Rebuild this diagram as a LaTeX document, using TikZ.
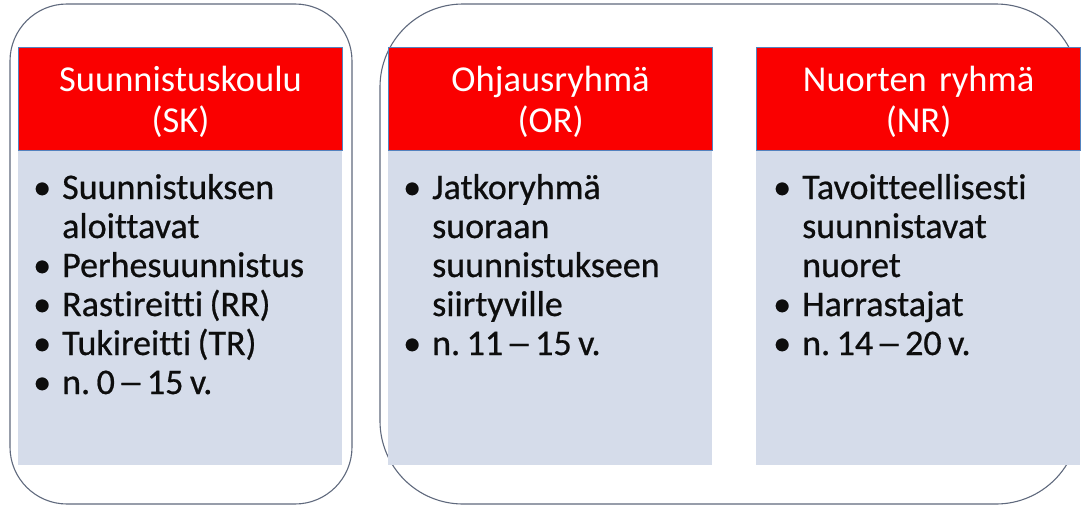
\documentclass[tikz,border=0pt]{standalone}
\usepackage{fontspec}
\setmainfont{Carlito}[Ligatures={NoCommon}]
\newfontfamily\listfont{Carlito}[Ligatures={NoCommon}, FakeBold=0.6]
\usetikzlibrary{calc}

\definecolor{hdrred}{RGB}{250,0,0}
\definecolor{hdredge}{RGB}{84,130,190}
\definecolor{bodyfill}{RGB}{213,220,234}
\definecolor{frameline}{RGB}{95,105,125}

% narrower word spaces for the list text
\newcommand{\tightspace}{\spaceskip=6.5pt plus 2pt minus 1pt\relax}

\tikzset{
  grpframe/.style={draw=frameline, line width=1.1pt},
  headbox/.style={fill=hdrred, draw=hdredge, line width=1.2pt,
    minimum width=324pt, minimum height=103pt, anchor=north west, inner sep=0pt},
  bodybox/.style={fill=bodyfill, minimum width=324pt, minimum height=315pt,
    anchor=north west, inner sep=0pt},
  headtext/.style={text=white, font=\fontsize{36.5}{41}\selectfont\frenchspacing,
    align=center, text width=320pt, anchor=base, inner sep=0pt},
  bodytext/.style={text=black!95,
    font=\listfont\fontsize{36}{39}\selectfont\frenchspacing,
    execute at begin node=\tightspace,
    align=left, text width=340pt, anchor=base west, inner sep=0pt},
}

% bullet, hanging indent and age range for the list items
\newcommand{\bul}{\makebox[30pt][l]{\hspace*{1pt}\textbullet}}
\newcommand{\cont}{\hspace*{30pt}}
\newcommand{\ages}[2]{n. #1\hspace{3pt}\scalebox{1.45}[1]{–}\hspace{3pt}#2 v.}

\begin{document}
\begin{tikzpicture}[x=1pt, y=-1pt]
  \useasboundingbox (0,0) rectangle (1081,506);

  % group frames
  \draw[grpframe, rounded corners=57pt] (10,4) rectangle (352,504);
  \draw[grpframe, rounded corners=83pt] (380,4) rectangle (1079,504);

  % body panels
  \node[bodybox] (bsk) at (18,150) {};
  \node[bodybox] (bor) at (388,150) {};
  \node[bodybox] (bnr) at (756,150) {};

  % header panels
  \node[headbox] (hsk) at (18,47) {};
  \node[headbox] (hor) at (388,47) {};
  \node[headbox] (hnr) at (756,47) {};

  % header titles
  \node[headtext] (tsk) at ($(hsk.north)+(0,44)$) {Suunnistuskoulu\\(SK)};
  \node[headtext] (tor) at ($(hor.north)+(0,44)$) {Ohjausryhmä\\(OR)};
  \node[headtext] (tnr) at ($(hnr.north)+(0,44)$) {Nuorten ryhmä\\(NR)};

  % lists
  \node[bodytext] (lsk) at (32,199) {%
    \bul Suunnistuksen\\
    \cont aloittavat\\
    \bul Perhesuunnistus\\
    \bul Rastireitti (RR)\\
    \bul Tukireitti (TR)\\
    \bul \ages{0}{15}};
  \node[bodytext] (lor) at (402,199) {%
    \bul Jatkoryhmä\\
    \cont suoraan\\
    \cont suunnistukseen\\
    \cont siirtyville\\
    \bul \ages{11}{15}};
  \node[bodytext] (lnr) at (772,199) {%
    \bul Tavoitteellisesti\\
    \cont suunnistavat\\
    \cont nuoret\\
    \bul Harrastajat\\
    \bul \ages{14}{20}};
\end{tikzpicture}
\end{document}
